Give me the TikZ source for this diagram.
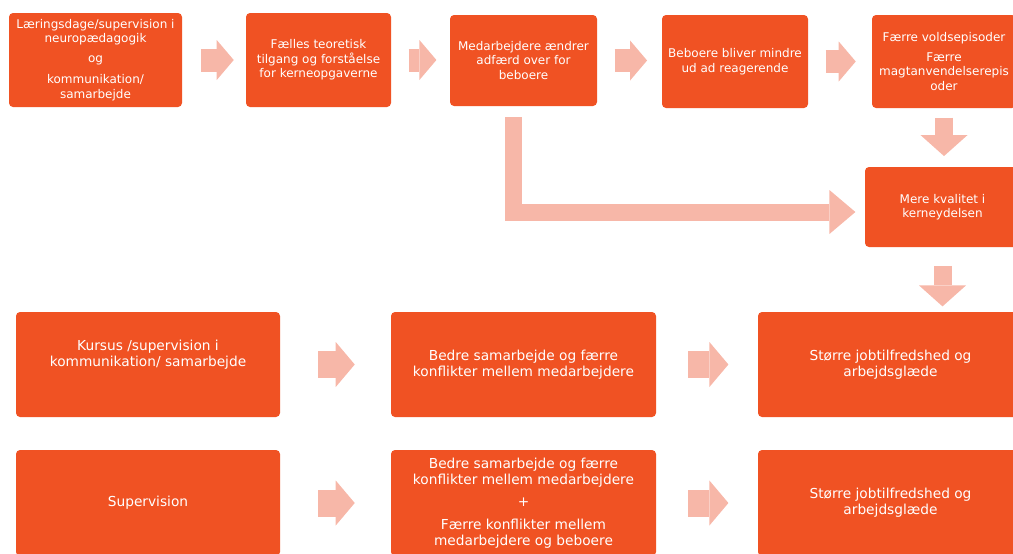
\documentclass[tikz,border=0pt]{standalone}
\usepackage{fontspec}
\setmainfont{DejaVu Sans}
\usetikzlibrary{arrows.meta,calc}
\definecolor{tangerine}{RGB}{240,82,35}
\definecolor{salmon}{RGB}{247,183,168}
\tikzset{
  box/.style={fill=tangerine,rounded corners=3pt,text=white,align=center,
    inner sep=2pt,font=\fontsize{9}{10.9}\selectfont},
  dims/.style 2 args={minimum width=#1*0.75pt,minimum height=#2*0.75pt},
  big/.style={font=\fontsize{10.3}{12}\selectfont},
  % block arrows
  flow/.style={draw=salmon,line width=17.25pt,
    -{Triangle[width=30pt,length=12.75pt,line width=0pt]}},
  down flow/.style={draw=salmon,line width=13.5pt,
    -{Triangle[width=35.25pt,length=15.75pt,line width=0pt]}},
  bend flow/.style={draw=salmon,line width=12.75pt,line join=miter,
    -{Triangle[width=33pt,length=19.5pt,line width=0pt]}},
  wide flow/.style={draw=salmon,line width=20.25pt,
    -{Triangle[width=33.75pt,length=14.25pt,line width=0pt]}},
}
\begin{document}
\begin{tikzpicture}[x=0.75pt,y=-0.75pt]
  \path[use as bounding box] (0,0) rectangle (1013,553);
  \clip (0,0) rectangle (1013,553);

  % top chain
  \node[box,dims={173}{94}] (b1) at (95.5,60)
    {Læringsdage/supervision i\\neuropædagogik\\[4pt]og\\[5pt]kommunikation/\\samarbejde};
  \node[box,dims={145}{94}] (b2) at (318.5,60)
    {Fælles teoretisk\\tilgang og forståelse\\for kerneopgaverne};
  \node[box,dims={147}{91}] (b3) at (523.5,60.5)
    {Medarbejdere ændrer\\adfærd over for\\beboere};
  \node[box,dims={146}{93}] (b4) at (735,61.5)
    {Beboere bliver mindre\\ud ad reagerende};
  \node[box,dims={144}{93}] (b5) at (944,61.5)
    {Færre voldsepisoder\\[4pt]Færre\\magtanvendelserepis\\oder};
  \node[box,dims={155}{80}] (b6) at (942.5,207)
    {Mere kvalitet i\\kerneydelsen};

  % lower rows
  \node[box,big,dims={264}{105},text depth=17.5pt] (b7) at (148,364.5)
    {Kursus /supervision i\\kommunikation/ samarbejde};
  \node[box,big,dims={265}{105}] (b8) at (523.5,364.5)
    {Bedre samarbejde og færre\\konflikter mellem medarbejdere};
  \node[box,big,dims={265}{105}] (b9) at (890.5,364.5)
    {Større jobtilfredshed og\\arbejdsglæde};
  \node[box,big,dims={264}{106}] (b10) at (148,503)
    {Supervision};
  \node[box,big,dims={265}{106}] (b11) at (523.5,503)
    {Bedre samarbejde og færre\\konflikter mellem medarbejdere\\[5pt]+\\[5pt]Færre konflikter mellem\\medarbejdere og beboere};
  \node[box,big,dims={265}{106}] (b12) at (890.5,503)
    {Større jobtilfredshed og\\arbejdsglæde};

  % arrows
  \draw[flow,shorten <=14pt,shorten >=9pt] (b1.east) -- (b1.east -| b2.west);
  \draw[flow,shorten <=13pt,shorten >=10pt] (b2.east) -- (b2.east -| b3.west);
  \draw[flow,shorten <=13pt,shorten >=11pt] (b3.east) -- (b3.east -| b4.west);
  \draw[flow,shorten <=13pt,shorten >=12pt] (b4.east) -- (b4.east -| b5.west);
  \draw[down flow,shorten <=7pt,shorten >=8pt] (b5.south) -- (b5.south |- b6.north);
  \draw[down flow,shorten <=14pt,shorten >=4pt] (b6.south) -- (b6.south |- b9.north);
  \draw[bend flow,shorten >=7pt] ($(b3.south)+(-10.5,11)$) |- ($(b6.west)+(0,5)$);
  \draw[wide flow,shorten <=28.5pt,shorten >=27pt] (b7.east) -- (b8.west);
  \draw[wide flow,shorten <=24pt,shorten >=22pt] (b8.east) -- (b9.west);
  \draw[wide flow,shorten <=28.5pt,shorten >=27pt] (b10.east) -- (b11.west);
  \draw[wide flow,shorten <=24pt,shorten >=22pt] (b11.east) -- (b12.west);
\end{tikzpicture}
\end{document}
